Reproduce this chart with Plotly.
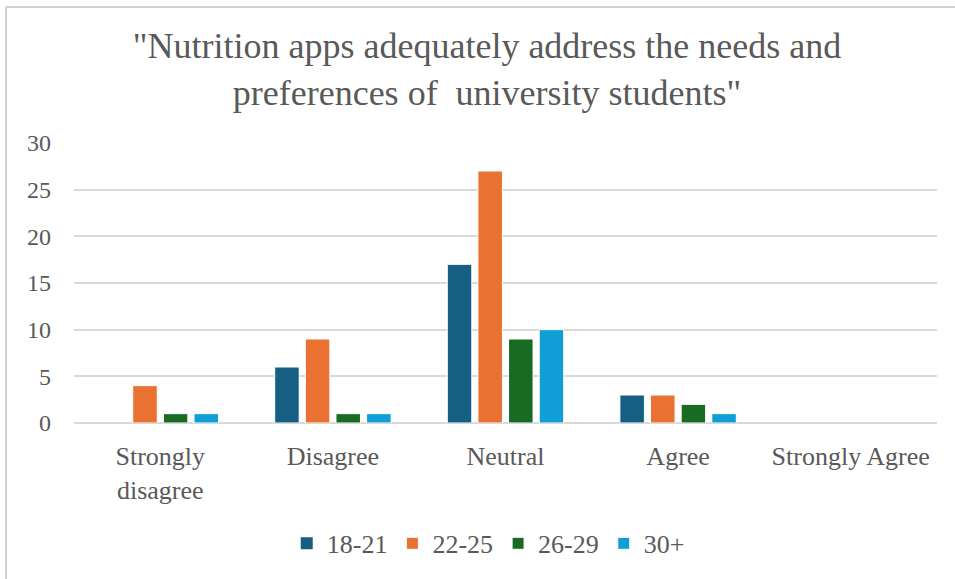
import plotly.graph_objects as go

# Survey responses by age group
categories = ["Strongly<br>disagree", "Disagree", "Neutral", "Agree", "Strongly Agree"]
age_groups = ["18-21", "22-25", "26-29", "30+"]
counts_18_21 = [0, 6, 17, 3, 0]
counts_22_25 = [4, 9, 27, 3, 0]
counts_26_29 = [1, 1, 9, 2, 0]
counts_30_plus = [1, 1, 10, 1, 0]
series = [counts_18_21, counts_22_25, counts_26_29, counts_30_plus]
colors = ["#156082", "#E97132", "#196B24", "#0F9ED5"]

y_ticks = [0, 5, 10, 15, 20, 25, 30]

FONT = "Liberation Serif, Times New Roman, serif"
TEXT = "#595959"
GRID = "#D9D9D9"

fig = go.Figure()
for name, vals, col in zip(age_groups, series, colors):
    fig.add_trace(go.Bar(
        x=categories, y=vals, name=name,
        # thin white outline, skipped on empty bars so the baseline stays solid
        marker=dict(color=col, line=dict(color="white", width=[1 if v else 0 for v in vals])),
    ))

fig.update_layout(
    width=955, height=579,
    paper_bgcolor="white", plot_bgcolor="white",
    margin=dict(l=74, r=18, t=143, b=156),
    barmode="group", bargap=0.29, bargroupgap=0.2,
    title=dict(
        text="\"Nutrition apps adequately address the needs and<br>preferences of  university students\"",
        x=0.51, xanchor="center", y=0.90, yanchor="middle",
        font=dict(family=FONT, size=36, color=TEXT),
    ),
    font=dict(family=FONT, size=24, color=TEXT),
    xaxis=dict(showgrid=False, showline=False, ticks="",
               tickfont=dict(family=FONT, size=26, color=TEXT), ticklabelstandoff=15),
    yaxis=dict(
        range=[0, 30], tickvals=y_ticks, showgrid=True, gridcolor=GRID, gridwidth=1.5,
        zeroline=True, zerolinecolor=GRID, zerolinewidth=1.5,
        tickfont=dict(family=FONT, size=24, color=TEXT), ticks="", ticklabelstandoff=22,
    ),
    legend=dict(
        orientation="h", x=0.48, xanchor="center", y=-0.43, yanchor="middle",
        font=dict(family=FONT, size=26, color=TEXT), itemwidth=30, traceorder="normal",
    ),
    shapes=[
        # chart frame (top and left edges)
        dict(type="line", xref="paper", yref="paper", x0=-0.0788, x1=1.1, y0=1.486, y1=1.486,
             line=dict(color="#D0D0D0", width=2)),
        dict(type="line", xref="paper", yref="paper", x0=-0.0788, x1=-0.0788, y0=-0.6, y1=1.486,
             line=dict(color="#D0D0D0", width=2)),
    ],
)

fig.write_html("out.html")
